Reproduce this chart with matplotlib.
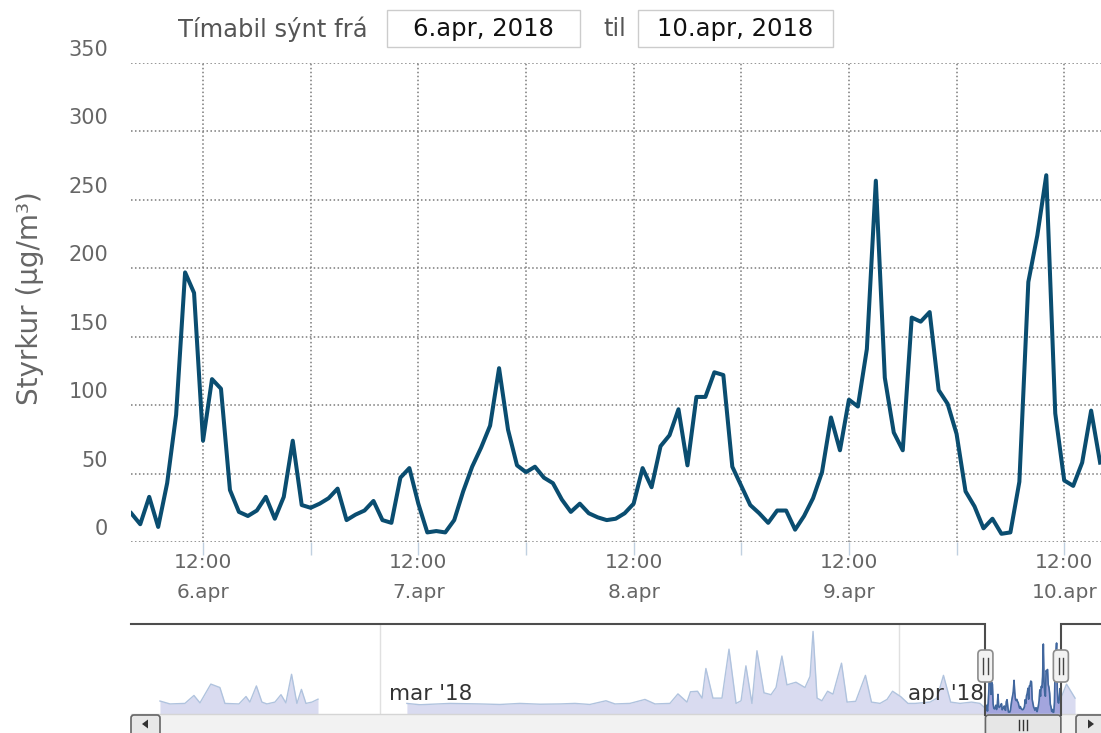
import numpy as np
import matplotlib.pyplot as plt
from matplotlib.patches import Rectangle, FancyBboxPatch, Polygon

# hourly values, 6.apr 04:00 -> 10.apr 16:00 (hours counted from 6.apr 00:00)
hours = np.arange(4, 113)
conc = [21, 13, 33, 11, 43, 93, 197, 182, 74, 119, 112, 38, 22, 19, 23, 33, 17, 33, 74, 27,
        25, 28, 32, 39, 16, 20, 23, 30, 16, 14, 47, 54, 28, 7, 8, 7, 16, 37,
        55, 69, 85, 127, 82, 56, 51, 55, 47, 43, 31, 22, 28, 21, 18, 16, 17, 21, 28,
        54, 40, 70, 78, 97, 56, 106, 106, 124, 122, 55, 41, 27, 21, 14, 23, 23, 9, 19, 32,
        51, 91, 67, 104, 99, 141, 264, 120, 80, 67, 164, 161, 168, 111, 101, 79,
        37, 26, 10, 17, 6, 7, 44, 190, 224, 268, 94, 45, 41, 58, 96, 58]

day_ticks = [12, 36, 60, 84, 108]
day_labels = ["6.apr", "7.apr", "8.apr", "9.apr", "10.apr"]

# navigator series (days since 1.mar)
nav_feb_days = [-13.14, -12.54, -11.65, -11.11, -10.75, -10.10, -9.56, -9.26, -8.42, -8.00, -7.77,
                -7.38, -7.05, -6.75, -6.27, -5.91, -5.62, -5.28, -4.96, -4.69, -4.42, -4.06, -3.70]
nav_feb_vals = [49, 38, 40, 70, 42, 113, 100, 40, 38, 66, 45, 106, 45, 38, 45, 73, 42, 150, 40, 93, 40, 45, 56]
nav_mar_days = [1.61, 2.39, 4.18, 5.97, 7.17, 8.36, 9.56, 10.75, 11.65, 12.54, 13.50, 14.04, 14.93,
                15.83, 16.43, 17.32, 17.80, 18.34, 18.55, 18.97, 19.24, 19.47, 19.89, 20.43, 20.85,
                21.27, 21.57, 21.86, 22.22, 22.52, 22.94, 23.36, 23.66, 24.01, 24.31, 24.85, 25.39,
                25.69, 25.87, 26.11, 26.40, 26.74, 27.06, 27.57, 27.90, 28.42, 29.00, 29.36, 29.87,
                30.29, 30.62, 31.12, 31.54, 31.96, 32.86, 33.27, 33.66, 34.09, 34.65, 35.34, 35.84]
nav_mar_vals = [40, 35, 40, 38, 36, 40, 37, 38, 40, 36, 50, 38, 40, 55, 38, 40, 76, 45, 84, 86, 60,
                172, 60, 60, 245, 40, 50, 182, 40, 239, 80, 73, 100, 219, 110, 120, 100, 142, 312,
                60, 50, 86, 75, 192, 45, 48, 146, 45, 40, 55, 86, 65, 40, 40, 45, 60, 146, 45, 40,
                45, 40]
nav_after_days = [41.01, 41.52]
nav_after_vals = [113, 60]
nav_month_days = [0, 31]
nav_month_labels = ["mar '18", "apr '18"]

W, H = 1101, 733
fig = plt.figure(figsize=(11.01, 7.33), dpi=100)

def fx(px):
    return px / W

def fy(py):
    return 1 - py / H

# main chart
ax = fig.add_axes([fx(131), fy(542), fx(1101) - fx(131), fy(63) - fy(542)])
ax.plot(hours, conc, color='#0a4d70', lw=2.9, zorder=3)
ax.set_xlim(3.97, 112.1)
ax.set_ylim(0, 350)
ax.set_xticks(range(12, 109, 12))
ax.set_yticks(range(0, 351, 50))
ax.grid(True, color='#7a7a7a', lw=1.1, linestyle=(0, (1, 1.6)))
ax.tick_params(axis='x', length=9, width=1, color='#c0d0e0', labelbottom=False)
ax.tick_params(axis='y', length=0, labelleft=False)
for s in ax.spines.values():
    s.set_visible(False)

for v in range(0, 351, 50):
    ax.annotate(str(v), xy=(0, v), xycoords=('axes fraction', 'data'), xytext=(-23, 13),
                textcoords='offset pixels', ha='right', va='center', fontsize=15, color='#666666')
for t, lab in zip(day_ticks, day_labels):
    ax.annotate("12:00", xy=(t, 0), xycoords=('data', 'axes fraction'), xytext=(0, -21),
                textcoords='offset pixels', ha='center', va='center', fontsize=14.5, color='#666666')
    ax.annotate(lab, xy=(t, 0), xycoords=('data', 'axes fraction'), xytext=(0, -51),
                textcoords='offset pixels', ha='center', va='center', fontsize=14.5, color='#666666')

# navigator
nav_top, nav_bot = 624, 714
nx0, nx1 = -14.87, 43.07
ax2 = fig.add_axes([fx(131), fy(nav_bot), fx(1101) - fx(131), fy(nav_top) - fy(nav_bot)])
ax2.set_xlim(nx0, nx1)
ax2.set_ylim(0, 340)
ax2.axis('off')

win_days = 36 + hours / 24
seg_days = np.concatenate([nav_mar_days, win_days, nav_after_days])
seg_vals = np.concatenate([nav_mar_vals, conc, nav_after_vals])
light_fill, light_line = '#d9dbf0', '#b0c3de'
ax2.fill_between(nav_feb_days, nav_feb_vals, color=light_fill, lw=0)
ax2.plot(nav_feb_days, nav_feb_vals, color=light_line, lw=1)
ax2.fill_between(seg_days, seg_vals, color=light_fill, lw=0)
ax2.plot(seg_days, seg_vals, color=light_line, lw=1)
ax2.fill_between(win_days, conc, color='#a3a5dd', lw=0, zorder=3)
ax2.plot(win_days, conc, color='#41679e', lw=1.2, zorder=4)
for d, lab in zip(nav_month_days, nav_month_labels):
    ax2.axvline(d, color='#e0e0e0', lw=1, zorder=0)
    ax2.annotate(lab, xy=(d, 0), xycoords=('data', 'axes fraction'), xytext=(9, 20),
                 textcoords='offset pixels', ha='left', va='center', fontsize=15.5,
                 color='#333333', zorder=5)

def nav_px(d):
    return 131 + (d - nx0) / (nx1 - nx0) * 970

sel0, sel1 = nav_px(win_days[0]), nav_px(112.15 / 24 + 36)

# overlay in pixel coordinates for the widgets
ov = fig.add_axes([0, 0, 1, 1])
ov.set_xlim(0, W)
ov.set_ylim(H, 0)
ov.axis('off')
ov.patch.set_alpha(0)

# header
ov.text(368, 29, "Tímabil sýnt frá", ha='right', va='center', fontsize=17.5, color='#555555')
ov.add_patch(Rectangle((387, 10), 193, 37, fc='white', ec='#cccccc', lw=1))
ov.text(483.5, 29, "6.apr, 2018", ha='center', va='center', fontsize=17.5, color='#111111')
ov.text(615, 29, "til", ha='center', va='center', fontsize=17.5, color='#555555')
ov.add_patch(Rectangle((638, 10), 195, 37, fc='white', ec='#cccccc', lw=1))
ov.text(735.5, 29, "10.apr, 2018", ha='center', va='center', fontsize=17.5, color='#111111')

ov.text(30, 298, "Styrkur (µg/m³)", rotation=90, ha='center', va='center', fontsize=20, color='#666666')

# scrollbar
ov.add_patch(Rectangle((131, nav_bot), 970, 30, fc='#f2f2f2', ec='#d5d5d5', lw=1))
ov.add_patch(FancyBboxPatch((131, nav_bot + 1), 29, 30, boxstyle='round,pad=0,rounding_size=3',
                            fc='#e8e8e8', ec='#666666', lw=1.2))
ov.add_patch(Polygon([(142, 724), (148, 719.5), (148, 728.5)], closed=True, fc='#333333', ec='none'))
ov.add_patch(FancyBboxPatch((1076, nav_bot + 1), 30, 30, boxstyle='round,pad=0,rounding_size=3',
                            fc='#e8e8e8', ec='#666666', lw=1.2))
ov.add_patch(Polygon([(1094, 724), (1088, 719.5), (1088, 728.5)], closed=True, fc='#333333', ec='none'))
ov.add_patch(FancyBboxPatch((sel0, nav_bot + 1), sel1 - sel0, 30, boxstyle='round,pad=0,rounding_size=3',
                            fc='#e6e6e6', ec='#666666', lw=1.2))
mid = (sel0 + sel1) / 2
for dx in (-4, 0, 4):
    ov.plot([mid + dx, mid + dx], [720, 730], color='#333333', lw=1)

# navigator outline
ov.plot([131, sel0, sel0], [nav_top, nav_top, nav_bot + 1], color='#4d4d4d', lw=1.5,
        solid_joinstyle='miter')
ov.plot([sel1, sel1, 1101], [nav_bot + 1, nav_top, nav_top], color='#4d4d4d', lw=1.5,
        solid_joinstyle='miter')

# handles
for xh in (sel0, sel1):
    ov.add_patch(FancyBboxPatch((xh - 7.5, nav_top + 26), 15, 32, boxstyle='round,pad=0,rounding_size=4',
                                fc='#f2f2f2', ec='#8c8c8c', lw=1.2, zorder=5))
    for dx in (-2.2, 2.2):
        ov.plot([xh + dx, xh + dx], [nav_top + 34, nav_top + 50], color='#444444', lw=1, zorder=6)

fig.savefig('out.png', dpi=100)
